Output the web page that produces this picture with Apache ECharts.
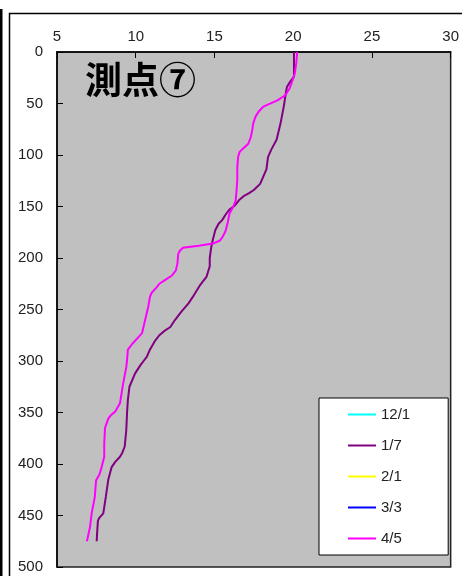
<!DOCTYPE html>
<html><head><meta charset="utf-8">
<script src="https://cdn.jsdelivr.net/npm/echarts@6/dist/echarts.min.js"></script>
<style>html,body{margin:0;padding:0;background:#fff}#c{width:462px;height:576px}</style>
</head><body><div id="c"></div>
<script>
var seriesNames = ['12/1', '1/7', '2/1', '3/3', '4/5'];
var seriesColors = ['#00ffff', '#800080', '#ffff00', '#0000ff', '#ff00ff'];
var xTicks = [5, 10, 15, 20, 25, 30];
var yTicks = [0, 50, 100, 150, 200, 250, 300, 350, 400, 450, 500];

// 1/7 : depth and temperature
var depth0107 = [0,10,24,29,34,43,53,69,85,95,102,114,121,128,134,137,140,144,149,153,158,163,167,173,182,189,200,208,218,226,236,244,252,260,267,271,275,281,289,296,300,304,312,325,338,350,367,383,389,393,398,403,415,432,448,452,455,464,475];
var temp0107  = [20.05,20.05,20.05,19.8,19.6,19.5,19.4,19.2,18.95,18.6,18.4,18.3,18.1,17.9,17.5,17.2,16.85,16.55,16.3,15.95,15.7,15.5,15.25,15.05,14.9,14.8,14.7,14.7,14.5,14.1,13.7,13.35,12.9,12.5,12.2,11.8,11.5,11.2,10.9,10.7,10.5,10.3,9.96,9.6,9.5,9.45,9.4,9.3,9.15,9.0,8.7,8.47,8.26,8.1,7.94,7.7,7.6,7.56,7.52];

// 4/5 : depth and temperature
var depth0405 = [0,10,21,30,36,42,47,53,58,63,70,76,83,89,94,97,102,112,124,135,144,150,157,165,174,180,183,186,188,190,193,196,205,212,217,221,225,229,234,238,247,260,273,278,283,289,299,306,322,341,349,353,356,365,380,393,405,410,416,432,448,461,475];
var temp0405  = [20.25,20.2,20.1,19.9,19.75,19.5,19.0,18.1,17.8,17.6,17.45,17.4,17.3,17.15,16.8,16.6,16.5,16.45,16.45,16.4,16.35,16.2,15.95,15.85,15.7,15.5,15.35,14.9,14.0,13.0,12.8,12.7,12.65,12.55,12.3,11.9,11.5,11.3,11.0,10.9,10.8,10.6,10.4,10.1,9.8,9.5,9.45,9.4,9.2,9.0,8.7,8.4,8.26,8.05,8.0,8.0,7.8,7.7,7.48,7.4,7.2,7.1,6.9];

var titleText = '測点⑦';

function pairs(t, d) { return t.map(function (v, i) { return [v, d[i]]; }); }
var dataMap = { '12/1': [], '1/7': pairs(temp0107, depth0107), '2/1': [], '3/3': [], '4/5': pairs(temp0405, depth0405) };

var chart = echarts.init(document.getElementById('c'), null, { renderer: 'canvas' });
var fontFam = '"Liberation Sans", Arial, sans-serif';
chart.setOption({
  animation: false,
  backgroundColor: '#ffffff',
  grid: { left: 57, top: 52, right: 11, bottom: 9, show: true, backgroundColor: '#c0c0c0', borderColor: '#222', borderWidth: 1.5 },
  xAxis: {
    type: 'value', position: 'top', min: xTicks[0], max: xTicks[xTicks.length - 1], interval: 5,
    axisLine: { show: true, lineStyle: { color: '#000', width: 1.5 } },
    axisTick: { show: true, inside: true, length: 6, lineStyle: { color: '#000' } },
    axisLabel: { color: '#222', fontSize: 15, fontFamily: fontFam, margin: 8 },
    splitLine: { show: false }
  },
  yAxis: {
    type: 'value', inverse: true, min: yTicks[0], max: yTicks[yTicks.length - 1], interval: 50,
    axisLine: { show: true, lineStyle: { color: '#000', width: 1.5 } },
    axisTick: { show: true, inside: true, length: 6, lineStyle: { color: '#000' } },
    axisLabel: { color: '#222', fontSize: 15, fontFamily: fontFam, margin: 14 },
    splitLine: { show: false }
  },
  legend: {
    orient: 'vertical', left: 319, top: 398,
    data: seriesNames,
    icon: 'rect', itemWidth: 28, itemHeight: 2, itemGap: 16,
    backgroundColor: '#ffffff', borderColor: '#000', borderWidth: 1,
    padding: [9, 38, 9, 29],
    textStyle: { color: '#222', fontSize: 15, fontFamily: fontFam, padding: [0, 0, 0, 0] },
    selectedMode: false
  },
  graphic: [
    { type: 'rect', shape: { x: 9.5, y: 13.5, width: 470, height: 600 }, style: { fill: 'none', stroke: '#000', lineWidth: 1.5 }, z: -1 },
    { type: 'rect', shape: { x: 0, y: 9, width: 2.5, height: 600 }, style: { fill: '#000' } },
    { type: 'text', left: 85, top: 61, style: { text: titleText, fill: '#000', font: 'bold 37px "Noto Sans CJK JP", sans-serif' }, z: 10 }
  ],
  series: seriesNames.map(function (n, i) {
    return {
      name: n, type: 'line', data: dataMap[n], showSymbol: false, symbol: 'none',
      lineStyle: { color: seriesColors[i], width: 2 }, itemStyle: { color: seriesColors[i] },
      z: n === '4/5' ? 3 : 2
    };
  })
});
</script></body></html>
